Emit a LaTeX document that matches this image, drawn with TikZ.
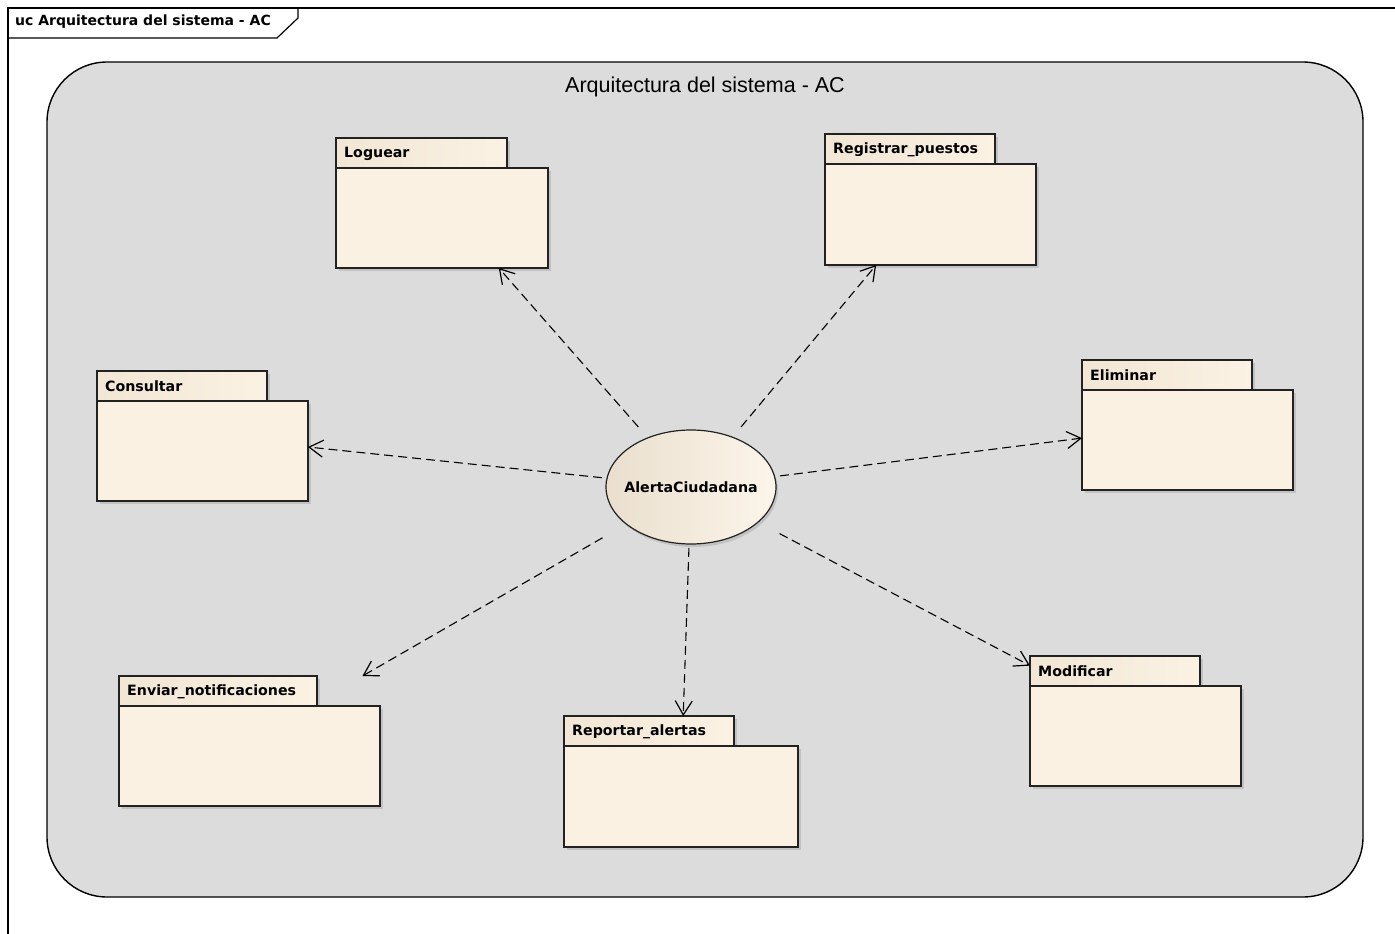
\documentclass[tikz,border=0pt]{standalone}
\usepackage{fontspec}
\setmainfont{Liberation Sans}
\newfontfamily\labelfont{DejaVu Sans}
\usetikzlibrary{calc,arrows.meta}

\definecolor{areagray}{HTML}{DCDCDC}
\definecolor{pkgfill}{HTML}{FBF1E3}
\definecolor{tableft}{HTML}{F2E6D4}
\definecolor{tabright}{HTML}{FBF2E4}
\definecolor{ellleft}{HTML}{EADFCE}
\definecolor{ellright}{HTML}{FCF5EA}
\definecolor{shadowc}{HTML}{C2C2C2}
\definecolor{edge}{HTML}{222222}

\tikzset{
  pkgarea/.style={rectangle, draw=none, inner sep=0pt, outer sep=0pt},
  tabstyle/.style={draw=edge, line width=1.2pt, left color=tableft, right color=tabright},
  bodystyle/.style={draw=edge, line width=1.2pt, fill=pkgfill},
  pkglabel/.style={font=\labelfont\bfseries\fontsize{14.2}{16}\selectfont, text=black, inner sep=0pt},
  dep/.style={draw=black, line width=1.1pt, dash pattern=on 9pt off 5pt,
    shorten <=4pt, -{Straight Barb[length=14pt,width=17pt,line width=1.2pt]}},
}

% package symbol: name, left, top, width, total height, tab width, label
\newcommand{\umlpackage}[7]{%
  \node[pkgarea, minimum width=#4pt, minimum height=#5pt, anchor=north west] (#1) at (#2,#3) {};
  \fill[shadowc] ($(#1.north west)+(3,3)$) rectangle ($(#1.north west)+(#6+3,33)$);
  \fill[shadowc] ($(#1.north west)+(3,33)$) rectangle ($(#1.south east)+(3,3)$);
  \draw[tabstyle] (#1.north west) rectangle ($(#1.north west)+(#6,30)$);
  \draw[bodystyle] ($(#1.north west)+(0,30)$) rectangle (#1.south east);
  \node[pkglabel, anchor=west] at ($(#1.north west)+(8,15.5)$) {#7};
}

\begin{document}
\begin{tikzpicture}[x=1pt,y=-1pt]
  \useasboundingbox (0,0) rectangle (1395,934);
  \fill[white] (0,0) rectangle (1395,934);

  % diagram frame with its name tab
  \draw[line width=1.2pt] (8,934) -- (8,8) -- (1395,8);
  \draw[line width=1.2pt] (8,38) -- (277,38) -- (298,18) -- (298,8);
  \node[font=\labelfont\bfseries\fontsize{14}{16}\selectfont, anchor=west, inner sep=0pt]
    (frametitle) at (15,22) {uc Arquitectura del sistema - AC};

  % system boundary
  \draw[fill=areagray, line width=1.4pt, rounded corners=60pt] (47,62) rectangle (1363,897);
  \node[font=\fontsize{21.5}{24}\selectfont, inner sep=0pt] (systitle) at (705,87)
    {Arquitectura del sistema - AC};

  % packages
  \umlpackage{pLog}{336}{138}{212}{130}{171}{Loguear}
  \umlpackage{pReg}{825}{134}{211}{131}{170}{Registrar\_puestos}
  \umlpackage{pCon}{97}{371}{211}{130}{170}{Consultar}
  \umlpackage{pEli}{1082}{360}{211}{130}{170}{Eliminar}
  \umlpackage{pEnv}{119}{676}{261}{130}{198}{Enviar\_notificaciones}
  \umlpackage{pRep}{564}{716}{234}{131}{170}{Reportar\_alertas}
  \umlpackage{pMod}{1030}{656}{211}{130}{170}{Modificar}

  % central use case
  \fill[shadowc] (693,490) ellipse [x radius=85, y radius=57];
  \shade[left color=ellleft, right color=ellright] (691,487) ellipse [x radius=85, y radius=57];
  \draw[draw=edge, line width=1.2pt] (691,487) ellipse [x radius=85, y radius=57];
  \node[pkglabel, rectangle, minimum width=170pt, minimum height=114pt, outer sep=0pt]
    (ac) at (691,487) {AlertaCiudadana};

  % dependencies
  \draw[dep] (ac) -- (pLog);
  \draw[dep] (ac) -- (pReg);
  \draw[dep] (ac) -- (pCon);
  \draw[dep] (ac) -- (pEli);
  \draw[dep] (ac) -- (pEnv);
  \draw[dep] (ac) -- (pRep);
  \draw[dep] (ac) -- (pMod);
\end{tikzpicture}
\end{document}
